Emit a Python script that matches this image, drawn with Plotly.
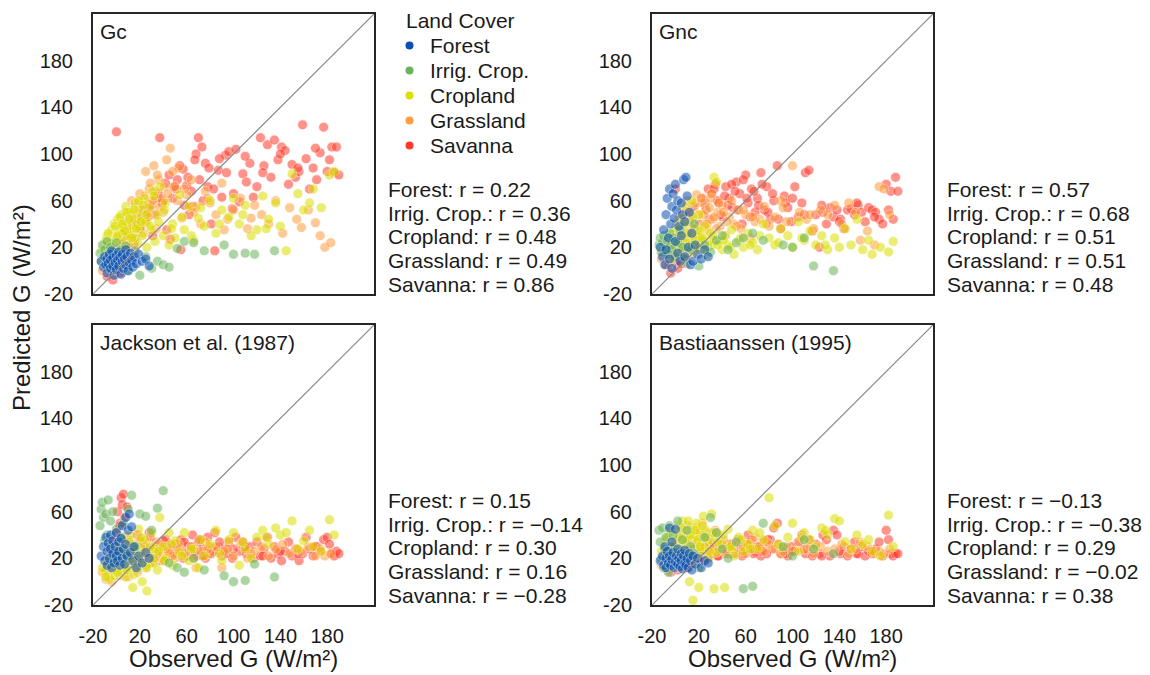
import plotly.graph_objects as go

# ---------------- data ----------------
categories = ["Forest", "Irrig. Crop.", "Cropland", "Grassland", "Savanna"]
colors = ["#0A50B2", "#6AB35A", "#DCDF00", "#FF9E40", "#FF3A2A"]
panel_names = ["Gc", "Gnc", "Jackson et al. (1987)", "Bastiaanssen (1995)"]
tick_values = [-20, 20, 60, 100, 140, 180]
tick_labels = ["-20", "20", "60", "100", "140", "180"]

forest_obs = [-13, -11, -10, -9, -8, -8, -7, -6, -5, -5, -4, -3, -3, -2, -1, 0, 0, 1, 2, 2,
              3, 4, 5, 5, 6, 7, 8, 8, 9, 10, 11, 12, 13, 14, 15, 17, 19, 22, 25, 28]
forest_gc = [8, 3, 12, 5, -2, 10, 6, 14, 2, 9, 17, 4, 11, -4, 7, 13, 1, 9, 16, 4,
             11, -3, 8, 14, 2, 10, 18, 5, 12, 0, 7, 15, 9, 3, 12, 6, 14, 8, 10, 4]
forest_gnc = [20, 12, 35, 5, 48, 18, 62, 28, 70, 10, 40, 55, 2, 66, 45, 74, 25, 52, 60, 15,
              38, 8, 58, 30, 48, 78, 42, 12, 80, 64, 20, 50, 5, 32, 8, 22, 14, 10, 18, 12]
forest_jackson = [22, 30, 18, 38, 26, 14, 33, 20, 40, 28, 12, 35, 24, 16, 30, 22, 42, 18, 34, 26,
                  14, 37, 20, 48, 28, 15, 55, 32, 22, 44, 58, 25, 47, 18, 30, 12, 22, 16, 25, 20]
forest_bast = [18, 22, 14, 30, 20, 12, 26, 16, 46, 22, 14, 34, 19, 25, 12, 17, 45, 22, 15, 28,
               20, 13, 24, 18, 11, 22, 16, 27, 14, 20, 12, 24, 18, 10, 22, 15, 20, 12, 18, 16]

irrig_obs = [-14, -13, -12, -11, -10, -9, -8, -7, -6, -5, -4, -3, -2, 0, 2, 4, 6, 8, 10, 13,
             16, 20, 25, 30, 35, 40, 45, 52, 58, 66, 75, 92, 100, 110, 118, 135]
irrig_gc = [15, 8, 22, 12, 18, 5, 25, 14, 9, 20, 2, 16, 11, 24, 6, 18, 13, 21, 0, 10,
            17, -4, 12, 2, 8, 5, 3, 19, 25, 24, 17, 22, 14, 15, 14, 17]
irrig_gnc = [22, 28, 16, 25, 30, 18, 20, 26, 14, 32, 22, 18, 28, 12, 24, 35, 20, 10, 6, 18,
             40, 4, 22, 16, 26, 30, 18, 24, 28, 32, 26, 22, 20, 28, 4, 0]
irrig_jackson = [48, 62, 68, 55, 35, 58, 40, 70, 30, 52, 22, 60, 18, 45, 26, 38, 50, 24, 62, 74,
                 30, 58, 56, 44, 63, 78, 16, 12, 8, 20, 10, 5, 0, 1, 15, 4]
irrig_bast = [44, 34, 20, 46, 12, 28, 38, 16, 8, 48, 30, 22, 40, 14, 52, 26, 36, 18, 44, 30,
              24, 12, 38, 55, 42, 28, 20, 34, -6, -4, 50, 30, 22, 36, 28, 24]

crop_obs = [-10, -8, -6, -4, -3, -2, 0, 1, 2, 3, 4, 5, 6, 7, 8, 9, 10, 11, 12, 13,
            14, 15, 16, 17, 18, 19, 20, 21, 22, 24, 25, 26, 28, 30, 31, 33, 35, 37, 40, 42,
            45, 48, 50, 54, 58, 62, 66, 70, 75, 80, 85, 90, 96, 100, 105, 110, 115, 120, 125, 130,
            136, 140, 145, 150, 155, 160, 168, 175, 182, 186,
            -12, -9, -7, -5, -1, 1, 3, 5, 7, 9, 11, 13, 15, 17, 19, 21, 23, 26, 29, 32,
            36, 41, 47, 56, 64, 72, 88, 108, 128, 165]
crop_gc = [22, 30, 18, 35, 26, 40, 28, 44, 20, 36, 48, 32, 25, 42, 55, 30, 38, 22, 50, 34,
           45, 28, 58, 40, 24, 52, 36, 46, 30, 62, 42, 20, 54, 35, 68, 25, 48, 72, 30, 58,
           22, 40, 28, 65, 35, 55, 26, 45, 38, 60, 32, 52, 46, 62, 40, 56, 30, 35, 64, 44,
           58, 38, 17, 83, 66, 52, 70, 54, 82, 85,
           18, 26, 32, 24, 38, 30, 46, 40, 34, 50, 44, 28, 52, 36, 60, 42, 56, 48, 38, 64,
           42, 52, 36, 46, 30, 54, 40, 48, 36, 58]
crop_gnc = [22, 14, 28, 18, 32, 10, 25, 40, 16, 30, 22, 45, 12, 35, 20, 55, 28, 18, 42, 24,
            60, 15, 36, 22, 30, 30, 48, 18, 26, 26, 38, 14, 20, 32, 22, 80, 76, 25, 18, 30,
            22, 35, 14, 26, 20, 32, 24, 18, 40, 28, 22, 36, 30, 20, 42, 26, 34, 22, 30, 18,
            28, 20, 36, 22, 44, 18, 14, 20, 16, 25,
            16, 24, 20, 30, 22, 34, 18, 28, 40, 24, 32, 22, 46, 26, 20, 34, 28, 18, 24, 30,
            22, 26, 20, 28, 22, 30, 24, 28, 22, 26]
crop_jackson = [8, 15, 2, 20, 10, 5, 25, 12, 18, 30, 8, 22, 14, 35, 4, 18, 28, 12, 40, 20,
                -5, 32, 15, 25, 10, 45, 20, 30, 0, 36, 14, -8, 24, 42, 16, 28, 10, 55, 30, 20,
                42, 14, 35, 25, 42, 18, 28, 12, 22, 32, 44, 18, 36, 42, 14, 28, 20, 38, 44, 32,
                46, 40, 42, 52, 28, 35, 30, 26, 53, 40,
                12, 4, 20, 14, 30, 8, 22, 16, 26, 10, 34, 20, 6, 28, 16, 38, 24, 12, 30, 20,
                26, 18, 32, 22, 28, 36, 24, 34, 38, 44]
crop_bast = [30, 22, 38, 18, 44, 26, 34, 14, 48, 28, 40, 20, 52, 32, 16, 44, 24, 36, 0, 46,
             28, -16, 40, 22, 50, 34, -5, 42, 26, 56, 30, 44, 20, 36, 58, -6, 25, 40, 32, -5,
             45, 28, 22, 38, 26, 32, 44, 28, 36, 72, 48, 30, 38, 50, 26, 42, 36, 30, 46, 40,
             54, 52, 34, 28, 40, 32, 26, 22, 57, 30,
             26, 36, 20, 42, 30, 24, 38, 46, 28, 34, 52, 40, 22, 44, 36, 30, 48, 38, 26, 42,
             34, 40, 30, 36, 28, 42, 32, 38, 44, 36]

grass_obs = [-12, -9, -6, -4, -2, 0, 2, 3, 5, 6, 8, 9, 10, 12, 13, 15, 16, 18, 20, 21,
             23, 25, 26, 28, 30, 32, 34, 36, 38, 40, 43, 46, 50, 53, 56, 60, 64, 68, 72, 76,
             80, 85, 90, 95, 100, 106, 112, 118, 124, 130, 136, 142, 148, 154, 158, 164, 170, 174, 178, 183,
             -7, -1, 4, 7, 11, 14, 17, 19, 22, 24, 27, 29, 31, 33, 35, 37, 41, 44, 48, 52,
             58, 66, 78, 92, 115]
grass_gc = [0, 8, 15, 4, 22, 12, 30, 18, 40, 25, 50, 35, 20, 45, 60, 28, 55, 38, 66, 48,
            32, 85, 42, 70, 56, 90, 36, 78, 62, 50, 95, 105, 72, 88, 45, 65, 78, 55, 40, 68,
            58, 48, 75, 44, 52, 62, 36, 56, 48, 40, 60, 32, 54, 44, 37, 52, 41, 30, 20, 24,
            5, 18, 26, 35, 30, 48, 42, 58, 52, 64, 46, 75, 60, 68, 82, 54, 72, 66, 85, 60,
            70, 50, 62, 35, 45]
grass_gnc = [10, 18, 5, 28, 14, 35, 22, 45, 30, 52, 38, 25, 60, 42, 30, 55, 36, 65, 48, 28,
             58, 40, 52, 34, 62, 44, 26, 50, 38, 56, 30, 46, 40, 52, 36, 48, 28, 42, 44, 55,
             38, 46, 60, 42, 90, 50, 44, 36, 52, 48, 56, 40, 58, 50, 26, 34, 22, 72, 70, 48,
             20, 30, 40, 28, 50, 44, 58, 34, 62, 48, 40, 54, 66, 46, 36, 58, 50, 42, 60, 38,
             52, 46, 40, 54, 48]
grass_jackson = [8, 2, 15, 0, 22, 10, 30, 5, 18, 38, 12, 25, 4, 32, 20, 14, 28, 8, 35, 18,
                 24, 12, 30, 20, 26, 16, 34, 22, 28, 18, 30, 24, 20, 32, 26, 22, 30, 12, 26, 34,
                 24, 30, 12, 28, 22, 32, 20, 26, 30, 22, 28, 32, 24, 28, 26, 30, 22, 28, 22, 24,
                 4, 16, 24, 10, 20, 28, 14, 24, 18, 30, 22, 16, 28, 20, 24, 32, 18, 26, 22, 30,
                 24, 20, 28, 26, 24]
grass_bast = [14, 22, 10, 30, 18, 26, 12, 36, 20, 44, 28, 16, 48, 34, 22, 40, 30, 46, 24, 38,
              50, 32, 42, 22, 36, 28, 44, 26, 34, 30, 24, 32, 28, 36, 30, 24, 34, 38, 30, 26,
              32, 28, 24, 30, 26, 34, 28, 24, 30, 26, 28, 32, 24, 28, 34, 30, 24, 26, 24, 28,
              18, 32, 24, 40, 28, 36, 22, 44, 30, 26, 38, 34, 24, 30, 42, 28, 36, 26, 32, 24,
              30, 28, 34, 26, 30]

sav_obs = [-8, -6, -4, -3, -1, 0, 1, 2, 3, 4, 5, 6, 7, 8, 10, 12, 14, 16, 18, 20,
           23, 26, 28, 31, 34, 37, 40, 43, 46, 49, 52, 55, 57, 60, 62, 65, 68, 70, 73, 76,
           78, 81, 84, 87, 90, 93, 96, 99, 102, 105, 108, 111, 114, 117, 120, 123, 126, 129, 132, 135,
           138, 141, 144, 147, 150, 153, 156, 159, 162, 165, 168, 171, 174, 177, 180, 182, 184, 186, 188, 190,
           3, 9, 15, 21, 25, 29, 33, 36, 39, 42, 45, 48, 51, 54, 58, 61, 64, 67, 71, 74,
           79, 83, 88, 94, 100, 110, 125, 140, 155, 170]
sav_gc = [-5, 2, 10, -8, 15, 119, 5, 20, -2, 12, 25, 35, 8, 18, 31, 22, 40, 28, 45, 36,
          52, 49, 57, 30, 62, 114, 60, 35, 27, 72, 78, 18, 87, 73, 48, 55, 100, 114, 106, 92,
          72, 40, 17, 86, 63, 99, 102, 53, 104, 59, 83, 76, 92, 63, 72, 114, 90, 108, 80, 112,
          95, 106, 103, 74, 91, 80, 85, 125, 96, 70, 88, 78, 101, 123, 85, 95, 106, 84, 106, 82,
          10, 28, 22, 38, 44, 55, 48, 66, 58, 75, 82, 62, 70, 90, 56, 80, 68, 95, 78, 60,
          88, 70, 96, 84, 66, 98, 84, 100, 88, 105]
sav_gnc = [5, 12, -2, 20, 8, 70, 15, 2, 10, 22, 6, 18, 44, 12, 25, 48, 30, 55, 20, 40,
           62, 52, 70, 66, 74, 58, 46, 72, 62, 54, 76, 66, 40, 82, 58, 70, 50, 62, 84, 52,
           72, 44, 60, 90, 36, 64, 54, 42, 72, 46, 58, 84, 86, 34, 48, 20, 50, 40, 54, 46,
           52, 44, 36, 52, 53, 48, 56, 50, 42, 54, 52, 50, 44, 40, 74, 52, 68, 44, 80, 68,
           18, 10, 36, 22, 58, 44, 70, 60, 48, 64, 56, 74, 68, 52, 78, 62, 46, 68, 56, 74,
           50, 66, 44, 58, 62, 48, 56, 42, 58, 46]
sav_jackson = [10, 28, 18, 35, 22, 42, 60, 30, 50, 72, 66, 75, 55, 25, 36, 18, 30, 24, 40, 20,
               32, 26, 42, 22, 30, 18, 35, 28, 22, 32, 24, 36, 20, 30, 26, 40, 22, 34, 28, 20,
               38, 24, 42, 30, 22, 28, 34, 20, 38, 26, 34, 24, 30, 20, 34, 22, 28, 38, 20, 30,
               24, 18, 26, 34, 22, 28, 18, 24, 38, 28, 22, 30, 26, 36, 38, 32, 24, 22, 26, 24,
               48, 64, 28, 34, 22, 38, 26, 30, 20, 36, 28, 24, 32, 26, 34, 22, 30, 26, 36, 22,
               30, 26, 34, 24, 28, 30, 22, 26, 24, 30]
sav_bast = [12, 20, 8, 28, 15, 34, 22, 10, 30, 18, 26, 14, 38, 20, 12, 24, 16, 30, 22, 28,
            18, 26, 20, 30, 24, 22, 28, 26, 32, 24, 30, 34, 22, 28, 40, 36, 26, 30, 22, 35,
            24, 36, 46, 50, 24, 28, 22, 30, 26, 34, 40, 24, 36, 22, 32, 24, 40, 36, 22, 44,
            40, 24, 30, 22, 28, 34, 24, 30, 22, 26, 24, 28, 34, 22, 44, 36, 24, 22, 24, 24,
            16, 22, 26, 20, 30, 24, 28, 22, 34, 26, 24, 30, 28, 36, 24, 32, 28, 24, 30, 26,
            36, 28, 32, 24, 26, 28, 22, 26, 24, 26]

r_forest = ["0.22", "0.57", "0.15", "\u22120.13"]
r_irrig = ["0.36", "0.68", "\u22120.14", "\u22120.38"]
r_crop = ["0.48", "0.51", "0.30", "0.29"]
r_grass = ["0.49", "0.51", "0.16", "\u22120.02"]
r_sav = ["0.86", "0.48", "\u22120.28", "0.38"]

obs = [forest_obs, irrig_obs, crop_obs, grass_obs, sav_obs]
pred = [
    [forest_gc, irrig_gc, crop_gc, grass_gc, sav_gc],
    [forest_gnc, irrig_gnc, crop_gnc, grass_gnc, sav_gnc],
    [forest_jackson, irrig_jackson, crop_jackson, grass_jackson, sav_jackson],
    [forest_bast, irrig_bast, crop_bast, grass_bast, sav_bast],
]
r_values = [r_forest, r_irrig, r_crop, r_grass, r_sav]
for panel in pred:
    for k, ys in enumerate(panel):
        assert len(ys) == len(obs[k]), (categories[k], len(ys), len(obs[k]))

# ---------------- layout geometry ----------------
W, H = 1150, 675
AX_MIN, AX_MAX = -20, 220
FONT = "Liberation Sans, Arial, sans-serif"
TXT = "#1a1a1a"
col_px = [(93, 374), (652, 933)]
row_px = [(14, 294), (325, 605)]
draw_order = [4, 3, 2, 1, 0]
R_LINE_GAP = 23.6

fig = go.Figure()
layout_axes = {}
annotations = []
shapes = []

for p in range(4):
    r, c = divmod(p, 2)
    n = p + 1
    xa = "x" if n == 1 else f"x{n}"
    ya = "y" if n == 1 else f"y{n}"
    x0, x1 = col_px[c]
    y0, y1 = row_px[r]
    xdom = [x0 / W, x1 / W]
    ydom = [1 - y1 / H, 1 - y0 / H]
    common = dict(range=[AX_MIN, AX_MAX], showgrid=False, zeroline=False, showline=True,
                  mirror=True, linecolor="#262626", linewidth=2, ticks="",
                  tickvals=tick_values, ticktext=tick_labels, automargin=False,
                  tickfont=dict(family=FONT, size=20, color=TXT))
    layout_axes["xaxis" if n == 1 else f"xaxis{n}"] = dict(
        domain=xdom, anchor=ya, showticklabels=(r == 1), ticklabelstandoff=12, **common)
    layout_axes["yaxis" if n == 1 else f"yaxis{n}"] = dict(
        domain=ydom, anchor=xa, showticklabels=True, ticklabelstandoff=14, **common)

    for k in draw_order:
        fig.add_trace(go.Scatter(
            x=obs[k], y=pred[p][k], mode="markers", xaxis=xa, yaxis=ya,
            showlegend=False, name=categories[k],
            marker=dict(color=colors[k], size=10, opacity=0.55,
                        line=dict(color="white", width=0.7))))

    shapes.append(dict(type="line", xref=xa, yref=ya, x0=AX_MIN, y0=AX_MIN,
                       x1=AX_MAX, y1=AX_MAX, line=dict(color="#8a8a8a", width=1.2),
                       layer="above"))

    annotations.append(dict(text=panel_names[p], xref="paper", yref="paper",
                            x=(x0 + 5) / W, y=1 - (y0 + 17) / H, xanchor="left",
                            yanchor="middle", showarrow=False,
                            font=dict(family=FONT, size=21, color=TXT)))

    for k in range(5):
        annotations.append(dict(text=f"{categories[k]}: r = {r_values[k][p]}",
                                xref="paper", yref="paper",
                                x=(x1 + 12) / W,
                                y=1 - (y1 - 10 - (4 - k) * R_LINE_GAP) / H,
                                xanchor="left", yanchor="middle", showarrow=False,
                                font=dict(family=FONT, size=21, color=TXT)))

for c in range(2):
    x0, x1 = col_px[c]
    annotations.append(dict(text="Observed G (W/m²)", xref="paper", yref="paper",
                            x=(x0 + x1) / 2 / W, y=1.5 / H, xanchor="center",
                            yanchor="bottom", showarrow=False,
                            font=dict(family=FONT, size=24, color=TXT)))
annotations.append(dict(text="Predicted G (W/m²)", xref="paper", yref="paper",
                        x=21 / W, y=1 - 308 / H, xanchor="center", yanchor="middle",
                        textangle=-90, showarrow=False,
                        font=dict(family=FONT, size=24, color=TXT)))

# ---------------- legend (drawn on a small categorical axis) ----------------
annotations.append(dict(text="Land Cover", xref="paper", yref="paper",
                        x=404 / W, y=1 - 20 / H, xanchor="left", yanchor="middle",
                        showarrow=False, font=dict(family=FONT, size=21, color=TXT)))
fig.add_trace(go.Scatter(x=[0] * len(categories), y=categories, mode="markers",
                         xaxis="x5", yaxis="y5", showlegend=False, hoverinfo="skip",
                         marker=dict(color=colors, size=8)))
layout_axes["xaxis5"] = dict(domain=[402 / W, 417 / W], range=[-1, 1], anchor="y5",
                             visible=False, fixedrange=True, automargin=False)
layout_axes["yaxis5"] = dict(domain=[1 - 158 / H, 1 - 33 / H], anchor="x5", side="right",
                             type="category", categoryorder="array", categoryarray=categories,
                             tickmode="array", tickvals=categories, ticktext=categories,
                             range=[len(categories) - 0.5, -0.5], showline=False,
                             showgrid=False, zeroline=False, ticks="", ticklabelstandoff=12,
                             automargin=False,
                             tickfont=dict(family=FONT, size=21, color=TXT), fixedrange=True)

fig.update_layout(
    width=W, height=H, margin=dict(l=0, r=0, t=0, b=0, pad=0, autoexpand=False),
    paper_bgcolor="white", plot_bgcolor="white",
    font=dict(family=FONT, color=TXT), showlegend=False,
    annotations=annotations, shapes=shapes, **layout_axes)

fig.write_html("out.html")

# make sure the page itself adds no body margin around the figure
with open("out.html", "r", encoding="utf-8") as fh:
    html = fh.read()
html = html.replace("<body>", '<body style="margin:0;padding:0;">', 1)
with open("out.html", "w", encoding="utf-8") as fh:
    fh.write(html)
